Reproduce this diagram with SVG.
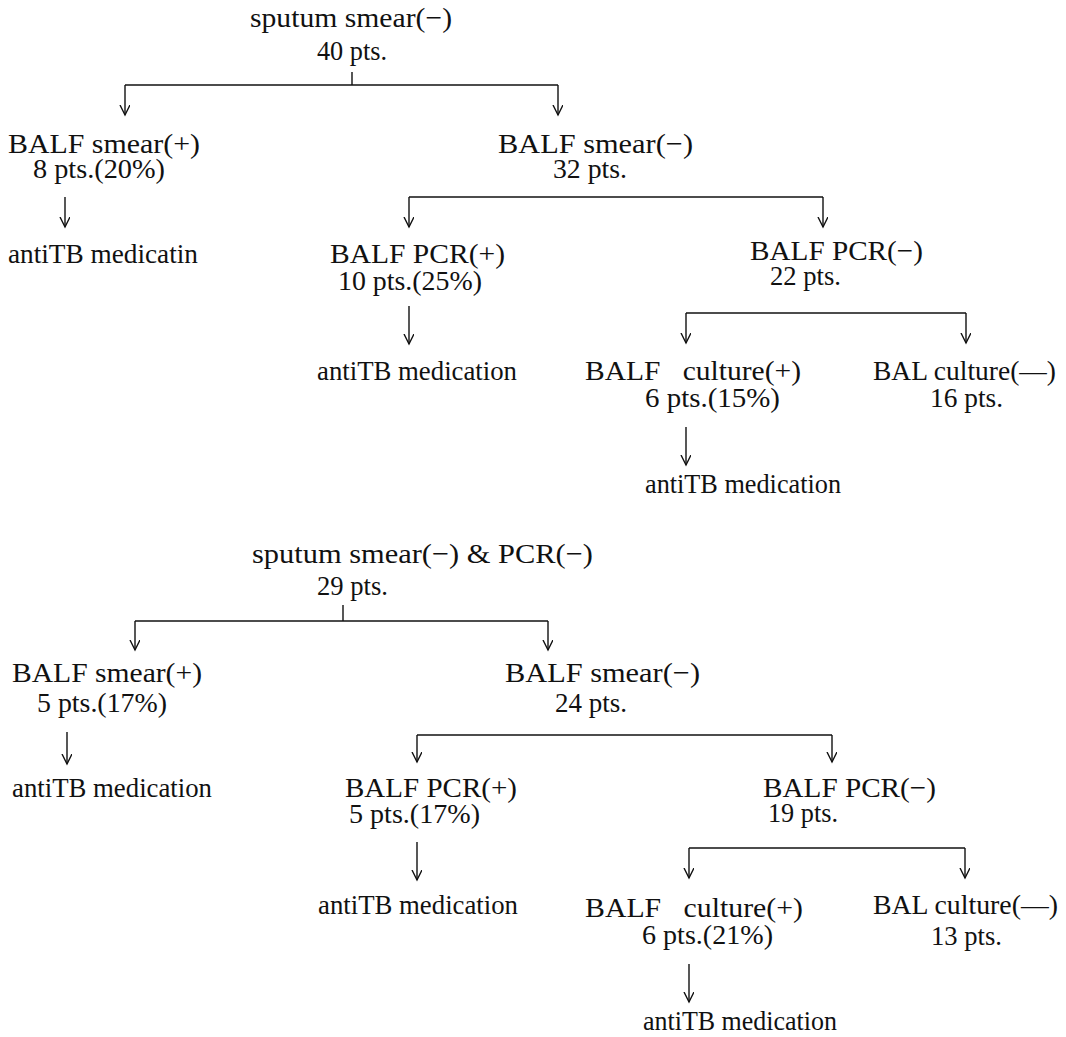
<svg xmlns="http://www.w3.org/2000/svg" width="1066" height="1037" viewBox="0 0 1066 1037">
<style>
text{font-family:"Liberation Serif","Times New Roman",serif;font-size:28px;fill:#111;white-space:pre}
.c path{stroke:#111;stroke-width:1.4;fill:none}
</style>
<defs>
<marker id="ah" viewBox="0 0 12 12" refX="10" refY="5" markerWidth="12" markerHeight="12" markerUnits="userSpaceOnUse" orient="auto">
<path d="M0,0 L10,5 L0,10" fill="none" stroke="#111" stroke-width="1.4"/>
</marker>
</defs>
<rect width="1066" height="1037" fill="#fff"/>
<g id="connectors" class="c">
<path d="M352,72 V85"/>
<path d="M125,85 H558"/>
<path d="M125,85 V115" marker-end="url(#ah)"/>
<path d="M558,85 V115" marker-end="url(#ah)"/>
<path d="M65,197 V227" marker-end="url(#ah)"/>
<path d="M409,197 H823"/>
<path d="M409,197 V227" marker-end="url(#ah)"/>
<path d="M823,197 V227" marker-end="url(#ah)"/>
<path d="M409,306 V344" marker-end="url(#ah)"/>
<path d="M686,313 H966"/>
<path d="M686,313 V343" marker-end="url(#ah)"/>
<path d="M966,313 V343" marker-end="url(#ah)"/>
<path d="M686,427 V465" marker-end="url(#ah)"/>
<path d="M343,605 V621"/>
<path d="M135,621 H548"/>
<path d="M135,621 V650" marker-end="url(#ah)"/>
<path d="M548,621 V650" marker-end="url(#ah)"/>
<path d="M67,732 V764" marker-end="url(#ah)"/>
<path d="M417,735 H832"/>
<path d="M417,735 V762" marker-end="url(#ah)"/>
<path d="M832,735 V762" marker-end="url(#ah)"/>
<path d="M417,842 V880" marker-end="url(#ah)"/>
<path d="M689,848 H965"/>
<path d="M689,848 V878" marker-end="url(#ah)"/>
<path d="M965,848 V878" marker-end="url(#ah)"/>
<path d="M689,964 V1002" marker-end="url(#ah)"/>
</g>
<g id="t-root">
<text x="250" y="27" textLength="202" lengthAdjust="spacingAndGlyphs">sputum smear(−)</text>
<text x="317" y="60" textLength="70" lengthAdjust="spacingAndGlyphs">40 pts.</text>
</g>
<g id="t-smear-pos">
<text x="8" y="153" textLength="192" lengthAdjust="spacingAndGlyphs">BALF smear(+)</text>
<text x="33" y="178" textLength="132" lengthAdjust="spacingAndGlyphs">8 pts.(20%)</text>
</g>
<g id="t-med1">
<text x="8" y="263" textLength="190" lengthAdjust="spacingAndGlyphs">antiTB medicatin</text>
</g>
<g id="t-smear-neg">
<text x="498" y="153" textLength="195" lengthAdjust="spacingAndGlyphs">BALF smear(−)</text>
<text x="553" y="178" textLength="74" lengthAdjust="spacingAndGlyphs">32 pts.</text>
</g>
<g id="t-pcr-pos">
<text x="330" y="263" textLength="175" lengthAdjust="spacingAndGlyphs">BALF PCR(+)</text>
<text x="338" y="290" textLength="144" lengthAdjust="spacingAndGlyphs">10 pts.(25%)</text>
</g>
<g id="t-med2">
<text x="317" y="380" textLength="200" lengthAdjust="spacingAndGlyphs">antiTB medication</text>
</g>
<g id="t-pcr-neg">
<text x="750" y="260" textLength="173" lengthAdjust="spacingAndGlyphs">BALF PCR(−)</text>
<text x="770" y="285" textLength="71" lengthAdjust="spacingAndGlyphs">22 pts.</text>
</g>
<g id="t-cult-pos">
<text x="585" y="380" textLength="216" lengthAdjust="spacingAndGlyphs">BALF   culture(+)</text>
<text x="645" y="407" textLength="135" lengthAdjust="spacingAndGlyphs">6 pts.(15%)</text>
</g>
<g id="t-cult-neg">
<text x="873" y="380" textLength="183" lengthAdjust="spacingAndGlyphs">BAL culture(—)</text>
<text x="930" y="407" textLength="73" lengthAdjust="spacingAndGlyphs">16 pts.</text>
</g>
<g id="t-med3">
<text x="645" y="493" textLength="196" lengthAdjust="spacingAndGlyphs">antiTB medication</text>
</g>
<g id="b-root">
<text x="252" y="563" textLength="341" lengthAdjust="spacingAndGlyphs">sputum smear(−) &amp; PCR(−)</text>
<text x="317" y="595" textLength="71" lengthAdjust="spacingAndGlyphs">29 pts.</text>
</g>
<g id="b-smear-pos">
<text x="12" y="682" textLength="190" lengthAdjust="spacingAndGlyphs">BALF smear(+)</text>
<text x="37" y="712" textLength="130" lengthAdjust="spacingAndGlyphs">5 pts.(17%)</text>
</g>
<g id="b-med1">
<text x="12" y="797" textLength="200" lengthAdjust="spacingAndGlyphs">antiTB medication</text>
</g>
<g id="b-smear-neg">
<text x="505" y="682" textLength="195" lengthAdjust="spacingAndGlyphs">BALF smear(−)</text>
<text x="555" y="712" textLength="72" lengthAdjust="spacingAndGlyphs">24 pts.</text>
</g>
<g id="b-pcr-pos">
<text x="345" y="797" textLength="172" lengthAdjust="spacingAndGlyphs">BALF PCR(+)</text>
<text x="349" y="823" textLength="131" lengthAdjust="spacingAndGlyphs">5 pts.(17%)</text>
</g>
<g id="b-med2">
<text x="318" y="914" textLength="200" lengthAdjust="spacingAndGlyphs">antiTB medication</text>
</g>
<g id="b-pcr-neg">
<text x="763" y="797" textLength="173" lengthAdjust="spacingAndGlyphs">BALF PCR(−)</text>
<text x="768" y="822" textLength="70" lengthAdjust="spacingAndGlyphs">19 pts.</text>
</g>
<g id="b-cult-pos">
<text x="585" y="917" textLength="218" lengthAdjust="spacingAndGlyphs">BALF   culture(+)</text>
<text x="642" y="944" textLength="131" lengthAdjust="spacingAndGlyphs">6 pts.(21%)</text>
</g>
<g id="b-cult-neg">
<text x="873" y="914" textLength="185" lengthAdjust="spacingAndGlyphs">BAL culture(—)</text>
<text x="931" y="945" textLength="71" lengthAdjust="spacingAndGlyphs">13 pts.</text>
</g>
<g id="b-med3">
<text x="643" y="1030" textLength="194" lengthAdjust="spacingAndGlyphs">antiTB medication</text>
</g>
</svg>
